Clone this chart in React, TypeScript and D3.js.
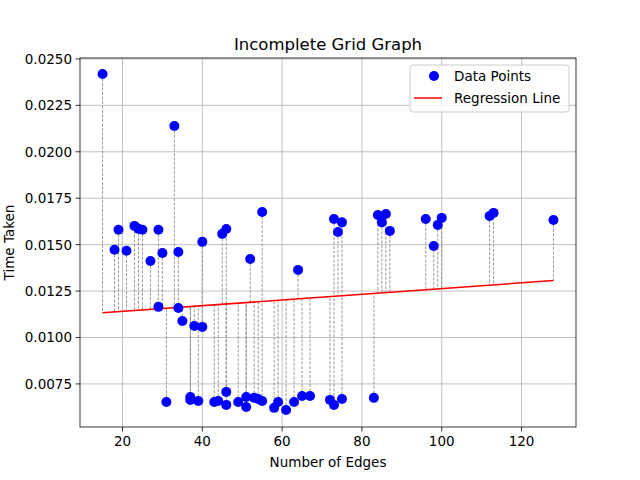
import React from "react";
import * as d3 from "d3";

const edges = [15, 18, 19, 21, 23, 24, 25, 27, 29, 29, 30, 31, 33, 34, 34, 35, 37, 37, 38, 39, 40, 40, 43, 44, 45, 46, 46, 46, 49, 51, 51, 52, 53, 54, 55, 55, 58, 59, 61, 63, 64, 65, 67, 72, 73, 73, 74, 75, 75, 83, 84, 85, 86, 87, 96, 98, 99, 100, 112, 113, 128];
const times = [0.02419, 0.01472, 0.0158, 0.01467, 0.01601, 0.01585, 0.0158, 0.01412, 0.01165, 0.0158, 0.01455, 0.00653, 0.02139, 0.0146, 0.01159, 0.01089, 0.0068, 0.00664, 0.01062, 0.00658, 0.01057, 0.01515, 0.00653, 0.00658, 0.01558, 0.00707, 0.01584, 0.00637, 0.00653, 0.0068, 0.00626, 0.01423, 0.00675, 0.00669, 0.01676, 0.00658, 0.00621, 0.00653, 0.0061, 0.00653, 0.01364, 0.00685, 0.00685, 0.00664, 0.00637, 0.01638, 0.01568, 0.0162, 0.00669, 0.00675, 0.0166, 0.0162, 0.01665, 0.01574, 0.01638, 0.01493, 0.01606, 0.01644, 0.01654, 0.01671, 0.01633];
const xTicks = [20, 40, 60, 80, 100, 120];
const yTicks = [0.0075, 0.01, 0.0125, 0.015, 0.0175, 0.02, 0.0225, 0.025];

const W = 640, H = 480;
const m = { l: 80, r: 576, t: 58, b: 427 };

export default function App() {
  const x = d3.scaleLinear().domain([9.35, 133.65]).range([m.l, m.r]);
  const y = d3.scaleLinear().domain([0.00518, 0.02505]).range([m.b, m.t]);
  // least squares fit
  const mx = d3.mean(edges)!, my = d3.mean(times)!;
  const slope = d3.sum(edges, (e, i) => (e - mx) * (times[i] - my)) / d3.sum(edges, (e) => (e - mx) ** 2);
  const fit = (e: number) => my + slope * (e - mx);
  const font = "DejaVu Sans, sans-serif";
  return (
    <svg width={W} height={H} style={{ position: "absolute", left: 0, top: 0 }} fontFamily={font}>
      <rect width={W} height={H} fill="#fff" />
      {xTicks.map((t) => (
        <g key={t}>
          <line x1={x(t)} x2={x(t)} y1={m.t} y2={m.b} stroke="#b0b0b0" strokeWidth={0.8} />
          <line x1={x(t)} x2={x(t)} y1={m.b} y2={m.b + 4.5} stroke="#000" strokeWidth={0.8} />
          <text x={x(t)} y={m.b + 19} fontSize={13.5} textAnchor="middle">{t}</text>
        </g>
      ))}
      {yTicks.map((t) => (
        <g key={t}>
          <line x1={m.l} x2={m.r} y1={y(t)} y2={y(t)} stroke="#b0b0b0" strokeWidth={0.8} />
          <line x1={m.l - 4.5} x2={m.l} y1={y(t)} y2={y(t)} stroke="#000" strokeWidth={0.8} />
          <text x={m.l - 8} y={y(t) + 5} fontSize={13.5} textAnchor="end">{t.toFixed(4)}</text>
        </g>
      ))}
      {edges.map((e, i) => (
        <line key={"s" + i} x1={x(e)} x2={x(e)} y1={y(times[i])} y2={y(fit(e))} stroke="#808080" strokeWidth={0.8} strokeDasharray="3,1.5" />
      ))}
      <line x1={x(15)} x2={x(128)} y1={y(fit(15))} y2={y(fit(128))} stroke="red" strokeWidth={1.5} />
      {edges.map((e, i) => (
        <circle key={"p" + i} cx={x(e)} cy={y(times[i])} r={5} fill="#0000ff" />
      ))}
      <rect x={m.l} y={m.t} width={m.r - m.l} height={m.b - m.t} fill="none" stroke="#000" strokeWidth={0.8} />
      <text x={(m.l + m.r) / 2} y={m.t - 8} fontSize={16.5} textAnchor="middle">Incomplete Grid Graph</text>
      <text x={(m.l + m.r) / 2} y={467} fontSize={13.5} textAnchor="middle">Number of Edges</text>
      <text transform={`translate(14,${(m.t + m.b) / 2}) rotate(-90)`} fontSize={13.5} textAnchor="middle">Time Taken</text>
      <g transform="translate(410,65)">
        <rect width={159} height={47} fill="#fff" fillOpacity={0.8} stroke="#cccccc" rx={3} />
        <circle cx={24} cy={11} r={5} fill="#0000ff" />
        <text x={44} y={16} fontSize={13.5}>Data Points</text>
        <line x1={4} x2={32} y1={33} y2={33} stroke="red" strokeWidth={1.5} />
        <text x={44} y={38} fontSize={13.5}>Regression Line</text>
      </g>
    </svg>
  );
}
